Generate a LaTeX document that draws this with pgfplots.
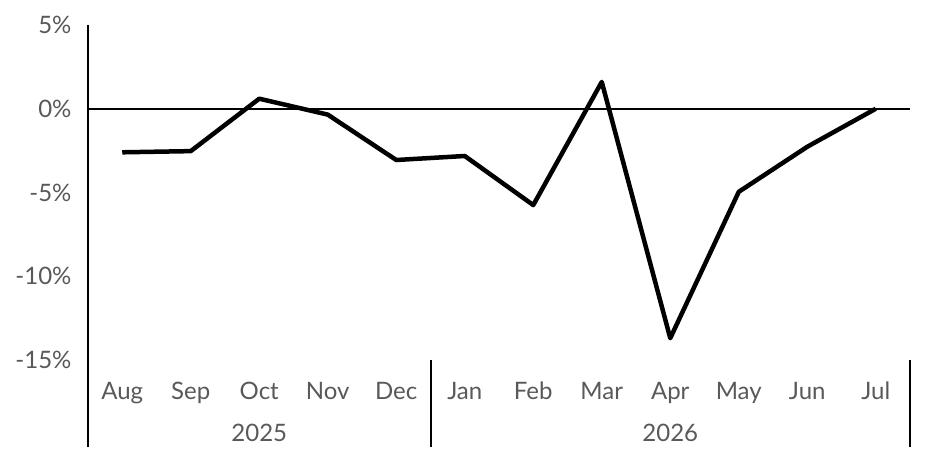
\documentclass[border=0pt]{standalone}
\usepackage{pgfplots}
\pgfplotsset{compat=1.18}
\usepackage{fontspec}
\setmainfont{Lato}
\definecolor{lbl}{HTML}{595959}
\begin{document}
\begin{tikzpicture}[x=1pt,y=1pt]
\begin{axis}[
  scale only axis, width=822pt, height=335pt,
  xmin=-0.5, xmax=11.5, ymin=-15, ymax=5,
  axis x line*=bottom, axis y line*=left,
  axis line style={draw=none},
  major tick length=0pt,
  xtick={0,...,11},
  xticklabels={Aug,Sep,Oct,Nov,Dec,Jan,Feb,Mar,Apr,May,Jun,Jul},
  ytick={-15,-10,-5,0,5},
  yticklabels={-15\%,-10\%,-5\%,0\%,5\%},
  tick label style={font=\fontsize{24}{28}\selectfont, text=lbl},
  xticklabel style={anchor=base, yshift=-39pt},
  yticklabel style={anchor=east, xshift=-13pt},
  clip=false,
]
\draw[black, line width=1.5pt] (axis cs:-0.5,0) -- (axis cs:11.5,0);
\draw[black, line width=2pt] (axis cs:-0.5,5) -- (axis cs:-0.5,-20.2);
\draw[black, line width=2pt] (axis cs:4.5,-15) -- (axis cs:4.5,-20.2);
\draw[black, line width=2pt] (axis cs:11.5,-15) -- (axis cs:11.5,-20.2);
\node[anchor=base, font=\fontsize{24}{28}\selectfont, text=lbl] at (axis cs:2,-19.88) {2025};
\node[anchor=base, font=\fontsize{24}{28}\selectfont, text=lbl] at (axis cs:8,-19.88) {2026};
\addplot[black, line width=4.5pt, line join=round] coordinates {
(0,-2.6) (1,-2.53) (2,0.6) (3,-0.35) (4,-3.06) (5,-2.82) (6,-5.75) (7,1.6) (8,-13.7) (9,-4.96) (10,-2.27) (11,0)
};
\end{axis}
\useasboundingbox (-88,-98) rectangle (845,360);
\end{tikzpicture}
\end{document}
